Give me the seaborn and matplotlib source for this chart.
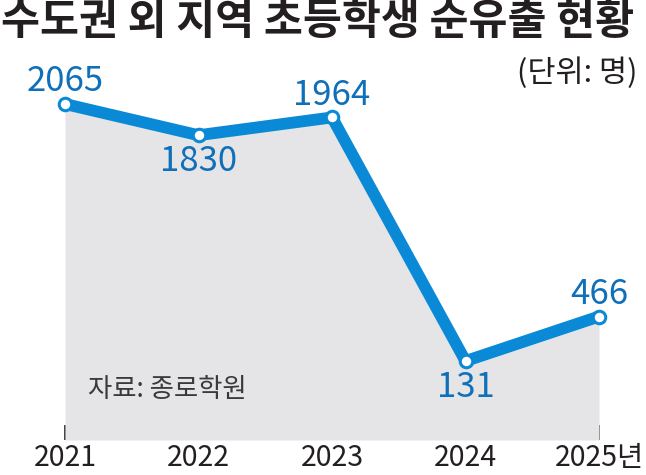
import matplotlib
matplotlib.use('Agg')
import matplotlib.pyplot as plt
from matplotlib import font_manager
import seaborn as sns
import pandas as pd

# --- Data ---
years = [2021, 2022, 2023, 2024, 2025]
year_labels = ['2021', '2022', '2023', '2024', '2025년']
outflow = [2065, 1830, 1964, 131, 466]
label_side = ['above', 'below', 'above', 'below', 'above']

df = pd.DataFrame({'year': years, 'outflow': outflow})

LINE_BLUE = '#0a8ad6'
TEXT_BLUE = '#0f6fb8'
FILL_GRAY = '#e5e5e7'
DARK = '#231f20'

sns.set_theme(style='white')
plt.rcParams['font.family'] = ['Noto Sans CJK KR', 'DejaVu Sans']

# narrow digits if a narrow face is installed
installed = {f.name for f in font_manager.fontManager.ttflist}
narrow = [n for n in ['Liberation Sans Narrow'] if n in installed]
NUM_FONT = narrow + ['Noto Sans CJK KR', 'DejaVu Sans']
num_size = 27 if narrow else 25
tick_size = 22 if narrow else 20.5

fig = plt.figure(figsize=(6.46, 4.75), dpi=100)
ax = fig.add_axes([65 / 646, 35 / 475, 534 / 646, 380 / 475])

ymin, ymax = -463, 2396
ax.fill_between(df['year'], df['outflow'], ymin, color=FILL_GRAY, lw=0, zorder=1)
sns.lineplot(data=df, x='year', y='outflow', ax=ax, color=LINE_BLUE, lw=8.5,
             marker='o', markersize=9, markerfacecolor='white',
             markeredgecolor=LINE_BLUE, markeredgewidth=2.2,
             solid_capstyle='round', solid_joinstyle='round', zorder=3,
             clip_on=False)

for x, y, side in zip(years, outflow, label_side):
    dy = 16 if side == 'above' else -19
    ax.annotate(f'{y}', (x, y), xytext=(0, dy), textcoords='offset points',
                ha='center', va='center', fontsize=num_size, color=TEXT_BLUE,
                family=NUM_FONT, zorder=4)

ax.set_xlim(2021, 2025)
ax.set_ylim(ymin, ymax)
ax.set_xticks(years)
ax.set_xticklabels(year_labels, family=NUM_FONT, fontsize=tick_size, color=DARK)
ax.set_yticks([])
ax.set_xlabel('')
ax.set_ylabel('')
ax.tick_params(axis='x', direction='in', length=11, width=1.2, color=DARK,
               pad=2, bottom=True)
for s in ax.spines.values():
    s.set_visible(False)

fig.text(0.002, 0.998, '수도권 외 지역 초등학생 순유출 현황', ha='left', va='top',
         fontsize=30.5, fontweight='bold', color=DARK)
fig.text(0.987, 0.846, '(단위: 명)', ha='right', va='center',
         fontsize=22, color=DARK)
ax.text(2021.17, -80, '자료: 종로학원', ha='left', va='center',
        fontsize=19, color='#3a3a3a')

fig.savefig('out.png', dpi=100)
